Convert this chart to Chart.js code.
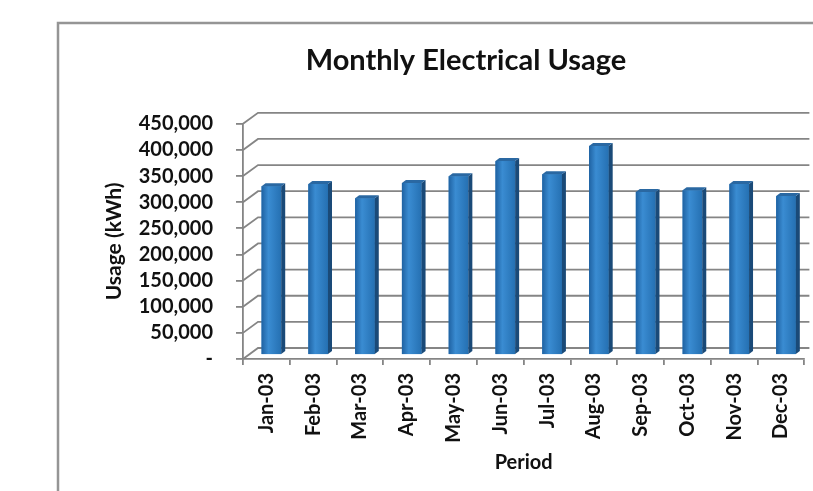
<!DOCTYPE html>
<html>
<head>
<meta charset="utf-8">
<script src="https://cdn.jsdelivr.net/npm/chart.js@4.4.1/dist/chart.umd.min.js"></script>
<style>
  html, body { margin: 0; padding: 0; background: #fff; }
  #wrap { width: 813px; height: 491px; }
</style>
</head>
<body>
<div id="wrap"><canvas id="usage-chart"></canvas></div>
<script>
const periods = ['Jan-03', 'Feb-03', 'Mar-03', 'Apr-03', 'May-03', 'Jun-03',
                 'Jul-03', 'Aug-03', 'Sep-03', 'Oct-03', 'Nov-03', 'Dec-03'];
const usage = [323000, 327000, 300000, 329000, 342000, 371000,
               346000, 400000, 312000, 315000, 327000, 304000];
const usageMax = 450000;
const usageStep = 50000;

// fake 3d: back wall and bars are pushed back / up from the front plane
const wallShift = { x: 15, y: -11 };
const barShift = { x: 5, y: -4 };
const barDepth = { x: 4, y: -3 };
const lineGrey = '#858585';
const font = 'Lato';

const excel3d = {
    id: 'excel3d',
    beforeDraw(chart) {
        const ctx = chart.ctx;
        ctx.save();
        ctx.fillStyle = '#fff';
        ctx.fillRect(0, 0, chart.width, chart.height);
        ctx.strokeStyle = '#959595';
        ctx.lineWidth = 2.5;
        ctx.strokeRect(58, 23, chart.width, chart.height);
        ctx.restore();
    },
    beforeDatasetsDraw(chart) {
        const { ctx, chartArea, scales: { y } } = chart;
        ctx.save();
        ctx.strokeStyle = lineGrey;
        ctx.lineWidth = 1.8;
        y.ticks.forEach(t => {
            const py = y.getPixelForValue(t.value);
            ctx.beginPath();
            ctx.moveTo(chartArea.left, py);
            ctx.lineTo(chartArea.left + wallShift.x, py + wallShift.y);
            ctx.lineTo(chartArea.right + 5, py + wallShift.y);
            ctx.stroke();
        });
        ctx.restore();
        ctx.save();
        ctx.translate(barShift.x, barShift.y);
    },
    afterDatasetsDraw(chart) {
        const ctx = chart.ctx;
        chart.getDatasetMeta(0).data.forEach(bar => {
            const l = bar.x - bar.width / 2;
            const r = bar.x + bar.width / 2;
            const top = bar.y;
            const bottom = bar.base;

            const g = ctx.createLinearGradient(l, 0, r, 0);
            g.addColorStop(0, '#1f62a2');
            g.addColorStop(0.35, '#3a8cd2');
            g.addColorStop(1, '#2570b2');
            ctx.fillStyle = g;
            ctx.fillRect(l, top, r - l, bottom - top);

            ctx.fillStyle = '#1a4a78';
            ctx.beginPath();
            ctx.moveTo(r, top);
            ctx.lineTo(r + barDepth.x, top + barDepth.y);
            ctx.lineTo(r + barDepth.x, bottom + barDepth.y);
            ctx.lineTo(r, bottom);
            ctx.closePath();
            ctx.fill();

            ctx.fillStyle = '#2a68a2';
            ctx.beginPath();
            ctx.moveTo(l, top);
            ctx.lineTo(l + barDepth.x, top + barDepth.y);
            ctx.lineTo(r + barDepth.x, top + barDepth.y);
            ctx.lineTo(r, top);
            ctx.closePath();
            ctx.fill();
        });
        ctx.restore();
    }
};

new Chart('usage-chart', {
    type: 'bar',
    data: {
        labels: periods,
        datasets: [{
            data: usage,
            backgroundColor: '#2b7bbf',
            borderWidth: 0,
            categoryPercentage: 1,
            barPercentage: 0.42,
            clip: false
        }]
    },
    options: {
        responsive: true,
        maintainAspectRatio: false,
        animation: false,
        layout: { padding: { left: 119, right: 0, top: 0, bottom: 0 } },
        plugins: {
            legend: { display: false },
            tooltip: { enabled: false },
            title: {
                display: true,
                text: 'Monthly Electrical Usage',
                color: '#111',
                font: { family: font, size: 29, weight: 'bold' },
                padding: { top: 43, bottom: 46 }
            }
        },
        scales: {
            x: {
                grid: { drawOnChartArea: false, tickLength: 6, color: lineGrey, lineWidth: 1.8 },
                border: { color: lineGrey, width: 1.8 },
                ticks: {
                    minRotation: 90, maxRotation: 90, padding: 8,
                    autoSkip: false,
                    color: '#111',
                    font: { family: font, size: 20, weight: 'bold' }
                },
                title: {
                    display: true, text: 'Period', color: '#111',
                    font: { family: font, size: 20, weight: 'bold' },
                    padding: { top: 0, bottom: 16 }
                },
                afterFit(scale) { scale.height = 132; }
            },
            y: {
                min: 0, max: usageMax,
                grid: { drawOnChartArea: false, tickLength: 7, color: lineGrey, lineWidth: 1.8 },
                border: { color: lineGrey, width: 1.8 },
                ticks: {
                    stepSize: usageStep, padding: 23,
                    autoSkip: false,
                    color: '#111',
                    font: { family: font, size: 20, weight: 'bold', lineHeight: 1 },
                    callback: v => v === 0 ? '-' : v.toLocaleString('en-US')
                },
                title: {
                    display: true, text: 'Usage (kWh)', color: '#111',
                    font: { family: font, size: 21, weight: 'bold' },
                    padding: { top: -17, bottom: 0 }
                },
                afterFit(scale) { scale.width = 124; }
            }
        }
    },
    plugins: [excel3d]
});
</script>
</body>
</html>
